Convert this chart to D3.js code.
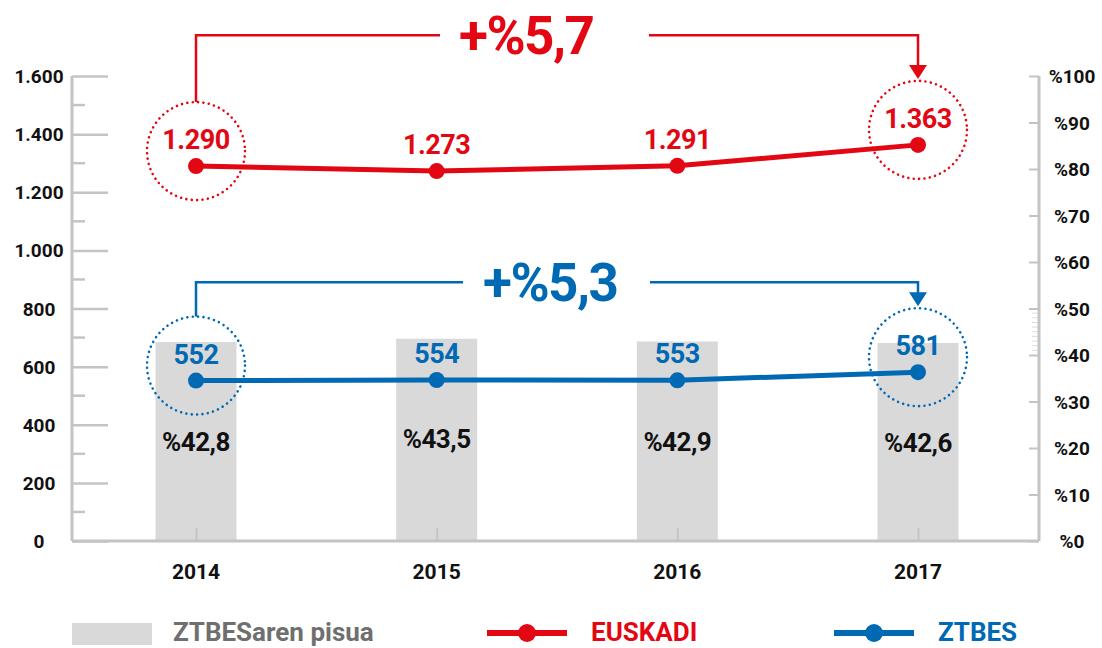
<!DOCTYPE html>
<html>
<head>
<meta charset="utf-8">
<title>EUSKADI / ZTBES</title>
<script src="https://d3js.org/d3.v7.min.js"></script>
<style>
  html, body { margin: 0; padding: 0; background: #fff; }
  svg { display: block; font-family: Roboto, "DejaVu Sans", sans-serif; font-weight: 700; }
</style>
</head>
<body>
<svg width="1102" height="648"></svg>
<script>
// datuak
var years = ["2014", "2015", "2016", "2017"];
var euskadi = [1290, 1273, 1291, 1363];
var ztbes = [552, 554, 553, 581];
var pisua = [42.8, 43.5, 42.9, 42.6];
var leftTicks = [0, 200, 400, 600, 800, 1000, 1200, 1400, 1600];
var rightTicks = [0, 10, 20, 30, 40, 50, 60, 70, 80, 90, 100];
var changes = ["+%5,7", "+%5,3"];

var RED = "#e30613", BLUE = "#0069b4", GREY = "#c4c4c4", BAR = "#d9d9d9";

var svg = d3.select("svg");
var fmt = d3.format(",");
function num(v) { return fmt(v).replace(/,/g, "."); }
function pct(v) { return "%" + String(v).replace(".", ","); }

var x = d3.scalePoint().domain(years).range([196, 918]);
var yL = d3.scaleLinear().domain([0, 1600]).range([541, 76]);
var yR = d3.scaleLinear().domain([0, 100]).range([541, 76]);

// barrak (ZTBESaren pisua)
svg.selectAll("rect.bar").data(years).enter().append("rect")
  .attr("class", "bar")
  .attr("x", function (d) { return x(d) - 40.5; })
  .attr("width", 81)
  .attr("y", function (d, i) { return yR(pisua[i]); })
  .attr("height", function (d, i) { return yR(0) - yR(pisua[i]); })
  .attr("fill", BAR);

// ezkerreko ardatza
var gl = svg.append("g").attr("transform", "translate(72,0)");
gl.call(d3.axisRight(yL).tickValues(leftTicks).tickSize(36).tickFormat(""));
gl.selectAll(".minor").data(d3.range(100, 1600, 200)).enter().append("line")
  .attr("class", "minor").attr("x1", 0).attr("x2", 13)
  .attr("y1", function (d) { return yL(d); }).attr("y2", function (d) { return yL(d); });
gl.selectAll("line").attr("stroke", GREY).attr("stroke-width", 2.5);
gl.select(".domain").attr("stroke", GREY).attr("stroke-width", 3).attr("d", "M0," + yL(1600) + "V" + yL(0));
svg.selectAll("text.lt").data(leftTicks).enter().append("text")
  .attr("class", "lt").attr("x", 39).attr("y", function (d) { return yL(d) + 7; })
  .attr("text-anchor", "middle").attr("font-size", 19).attr("fill", "#111")
  .text(num);

// eskuineko ardatza
var gr = svg.append("g").attr("transform", "translate(1039,0)");
gr.call(d3.axisLeft(yR).tickValues(rightTicks).tickSize(10).tickFormat(""));
gr.selectAll(".minor").data(d3.range(41, 50)).enter().append("line")
  .attr("class", "minor").attr("x1", 0).attr("x2", -7)
  .attr("y1", function (d) { return yR(d); }).attr("y2", function (d) { return yR(d); })
  .attr("stroke-width", 0.6);
gr.selectAll(".tick line").attr("stroke-width", 2);
gr.selectAll("line").attr("stroke", GREY);
gr.select(".domain").attr("stroke", GREY).attr("stroke-width", 3).attr("d", "M0," + yR(100) + "V" + yR(0));
svg.selectAll("text.rt").data(rightTicks).enter().append("text")
  .attr("class", "rt").attr("x", 1072).attr("y", function (d) { return yR(d) + 7; })
  .attr("text-anchor", "middle").attr("font-size", 19).attr("fill", "#111")
  .text(function (d) { return "%" + d; });

// beheko ardatza
var gb = svg.append("g").attr("transform", "translate(0,541)");
gb.call(d3.axisTop(x).tickSize(13).tickFormat(""));
gb.selectAll("line").attr("stroke", GREY).attr("stroke-width", 2);
gb.select(".domain").attr("stroke", GREY).attr("stroke-width", 3).attr("d", "M72,0H1039");
svg.selectAll("text.yr").data(years).enter().append("text")
  .attr("class", "yr").attr("x", function (d) { return x(d); }).attr("y", 579)
  .attr("text-anchor", "middle").attr("font-size", 21).attr("fill", "#111")
  .text(function (d) { return d; });

// pisua etiketak
svg.selectAll("text.pc").data(years).enter().append("text")
  .attr("class", "pc").attr("x", function (d) { return x(d); })
  .attr("y", function (d, i) { return yR(pisua[i]) + 109; })
  .attr("text-anchor", "middle").attr("font-size", 26).attr("fill", "#111")
  .attr("letter-spacing", -0.5)
  .text(function (d, i) { return pct(pisua[i]); });

// lerroak
function drawSeries(vals, color, change, bracketVal, textX, gapL, gapR) {
  var pts = years.map(function (d, i) { return [x(d), yL(vals[i])]; });
  var first = pts[0], last = pts[pts.length - 1];
  var r = 49, off = 15;

  // zirkulu puntukatuak
  [first, last].forEach(function (p) {
    svg.append("circle").attr("cx", p[0]).attr("cy", p[1] - off).attr("r", r)
      .attr("fill", "none").attr("stroke", color).attr("stroke-width", 2.6)
      .attr("stroke-dasharray", "0.01 5.4").attr("stroke-linecap", "round");
  });

  svg.append("path").datum(pts)
    .attr("d", d3.line())
    .attr("fill", "none").attr("stroke", color).attr("stroke-width", 5);
  svg.selectAll(null).data(pts).enter().append("circle")
    .attr("cx", function (p) { return p[0]; }).attr("cy", function (p) { return p[1]; })
    .attr("r", 8).attr("fill", color);
  svg.selectAll(null).data(pts).enter().append("text")
    .attr("x", function (p) { return p[0]; }).attr("y", function (p) { return p[1] - 17; })
    .attr("text-anchor", "middle").attr("font-size", 27).attr("fill", color)
    .attr("letter-spacing", -0.5)
    .text(function (p, i) { return num(vals[i]); });

  // aldaketa gezia
  var by = yL(bracketVal);
  var topL = first[1] - off - r, topR = last[1] - off - r;
  var g = svg.append("g").attr("fill", "none").attr("stroke", color).attr("stroke-width", 2.5);
  g.append("path").attr("d", "M" + first[0] + "," + topL + "V" + by + "H" + gapL);
  g.append("path").attr("d", "M" + gapR + "," + by + "H" + last[0] + "V" + (topR - 15));
  svg.append("path")
    .attr("d", "M" + (last[0] - 9) + "," + (topR - 16) + "L" + (last[0] + 9) + "," + (topR - 16) + "L" + last[0] + "," + (topR - 2) + "Z")
    .attr("fill", color);
  svg.append("text").attr("x", textX).attr("y", by + 19)
    .attr("font-size", 53).attr("fill", color).attr("letter-spacing", -1.5)
    .text(change);
}
drawSeries(euskadi, RED, changes[0], 1740, 459, 440, 649);
drawSeries(ztbes, BLUE, changes[1], 890, 483, 463, 650);

// legenda
var lg = svg.append("g");
lg.append("rect").attr("x", 72).attr("y", 623).attr("width", 80).attr("height", 22).attr("fill", BAR);
lg.append("text").attr("x", 173).attr("y", 641).attr("font-size", 26).attr("fill", "#6f6f6f").text("ZTBESaren pisua");
[[487, RED, "EUSKADI"], [834, BLUE, "ZTBES"]].forEach(function (l) {
  lg.append("line").attr("x1", l[0]).attr("x2", l[0] + 80).attr("y1", 633).attr("y2", 633)
    .attr("stroke", l[1]).attr("stroke-width", 6);
  lg.append("circle").attr("cx", l[0] + 40).attr("cy", 633).attr("r", 9).attr("fill", l[1]);
  lg.append("text").attr("x", l[0] + 104).attr("y", 641).attr("font-size", 26).attr("fill", l[1]).text(l[2]);
});
</script>
</body>
</html>
